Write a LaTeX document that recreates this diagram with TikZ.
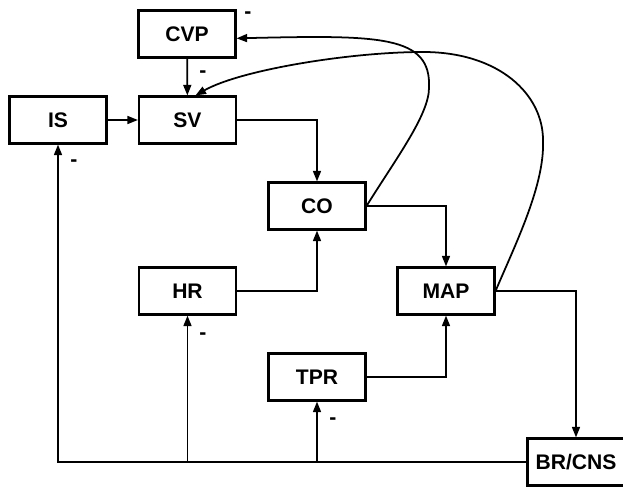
\documentclass[tikz,border=0pt]{standalone}
\usepackage{fontspec}
\setsansfont{Liberation Sans}
\usetikzlibrary{arrows.meta,positioning,calc}

\begin{document}
\begin{tikzpicture}[>={Triangle[length=6pt,width=4.5pt]},
   font=\sffamily\bfseries\fontsize{12}{14}\selectfont,
   box/.style={draw,line width=1.2pt,minimum width=1.94cm,minimum height=0.94cm,inner sep=0pt,fill=white},
   link/.style={->,line width=1pt},
   minus/.style={inner sep=0pt}]
  \useasboundingbox (0,0) rectangle (12.46,9.78);
  \node[box] (cvp) at (3.74,9.10) {CVP};
  \node[box] (sv) at (3.75,7.38) {SV};
  \node[box] (is) at (1.16,7.38) {IS};
  \node[box] (co) at (6.34,5.66) {CO};
  \node[box] (hr) at (3.75,3.96) {HR};
  \node[box] (map) at (8.92,3.96) {MAP};
  \node[box] (tpr) at (6.34,2.24) {TPR};
  \node[box] (brcns) at (11.52,0.54) {BR/CNS};
  \coordinate (ka) at (8.58,8.02);
  \coordinate (kb) at (10.86,6.98);
  \coordinate (kc) at (8.46,8.74);
  \draw[link] (cvp) -- (sv);
  \draw[link] (is) -- (sv);
  \draw[link] (sv.east) -| (co.north);
  \draw[link] (co.east) -| (map.north);
  \draw[link] (hr.east) -| (co.south);
  \draw[link] (tpr.east) -| (map.south);
  \draw[link] (map.east) -| (brcns.north);
  \draw[link] (brcns.west) -| (is.south);
  \draw[link] (hr.south |- brcns.west) -- (hr.south);
  \draw[link] (tpr.south |- brcns.west) -- (tpr.south);
  \draw[link] (co.east) .. controls (7.90,6.58) and (8.58,7.48) .. (ka)
     .. controls (8.63,9.08) and (7.60,9.08) .. (cvp.-5);
  \draw[link] (map.east) .. controls (10.30,4.88) and (10.90,6.08) .. (kb)
     .. controls (10.86,7.88) and (10.00,8.74) .. (kc)
     .. controls (7.00,8.74) and (4.80,8.38) .. (sv.72);
  \node[minus] (mcvp) at (4.96,9.48) {-};
  \node[minus] (msv) at (4.06,8.30) {-};
  \node[minus] (mis) at (1.48,6.52) {-};
  \node[minus] (mhr) at (4.06,3.06) {-};
  \node[minus] (mtpr) at (6.66,1.36) {-};
\end{tikzpicture}
\end{document}
